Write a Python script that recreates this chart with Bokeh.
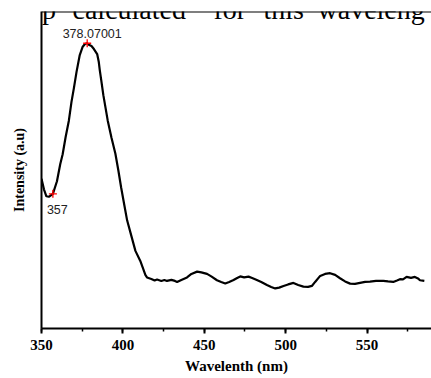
from bokeh.plotting import figure
from bokeh.models import Label, SingleIntervalTicker, Range1d, Span, ColumnDataSource
from bokeh.core.properties import value
from bokeh.embed import file_html
from bokeh.resources import INLINE

# ---- data ----
wavelength = [350.0, 351.5, 353.0, 354.5, 357.0, 359.5, 361.5, 363.0, 364.8, 366.8,
              368.4, 369.9, 371.5, 373.5, 375.2, 376.7, 378.07, 379.4, 380.7, 382.2,
              384.2, 385.2, 385.8, 386.7, 388.0, 390.7, 393.0, 395.4, 397.2, 398.9,
              400.9, 402.6, 405.2, 407.7, 410.7, 412.6, 413.8, 414.8, 417.5, 419.5,
              421.0, 423.6, 425.5, 427.1, 429.8, 432.0, 433.3, 435.9, 439.4, 442.1,
              445.6, 448.2, 451.7, 454.3, 457.8, 460.4, 462.9, 465.3, 468.0, 470.2,
              472.1, 474.5, 477.2, 479.4, 482.3, 485.0, 488.5, 491.1, 493.6, 496.0,
              498.7, 501.5, 504.8, 507.7, 510.9, 513.8, 516.1, 518.1, 521.2, 524.2,
              527.3, 530.4, 533.4, 536.5, 539.6, 542.6, 545.7, 548.8, 551.8, 555.5,
              560.0, 562.9, 566.1, 568.4, 570.2, 572.1, 574.3, 577.0, 579.4, 581.3,
              582.5, 585.2]
intensity = [149.5, 139.0, 132.0, 131.5, 134.5, 147.0, 164.0, 174.0, 191.0, 207.5,
             226.0, 240.0, 256.0, 273.0, 281.0, 284.0, 284.8, 283.0, 282.0, 279.0,
             274.0, 266.0, 258.0, 248.0, 233.0, 207.5, 190.5, 174.5, 158.0, 141.0,
             123.0, 108.0, 92.5, 77.5, 67.5, 59.0, 53.5, 51.0, 49.5, 48.0,
             49.0, 47.5, 48.5, 47.5, 48.5, 47.5, 46.5, 48.5, 51.0, 54.5,
             56.8, 56.0, 54.5, 52.0, 48.2, 46.5, 45.0, 46.5, 48.5, 50.5,
             52.0, 51.0, 51.8, 50.5, 48.5, 46.5, 43.5, 41.5, 40.0, 40.8,
             42.5, 44.0, 45.5, 43.5, 41.8, 41.5, 42.5, 46.5, 52.5, 54.5,
             55.2, 53.5, 50.2, 47.0, 44.8, 44.5, 45.5, 46.5, 46.8, 47.5,
             47.5, 47.0, 46.5, 48.0, 49.2, 49.0, 51.5, 50.5, 51.5, 50.0,
             48.2, 47.5]

marked_wavelengths = [357.0, 378.07]
marked_labels = ["357", "378.07001"]
top_words = ["gap", "calculated", "for", "this", "waveleng"]

# ---- figure ----
SERIF = "Liberation Serif"
SANS = "Liberation Sans"
Y_TOP = 316.5
FRAME_LEFT = 41
FRAME_BOTTOM = 328

p = figure(width=431, height=378, output_backend="svg", toolbar_location=None,
           x_range=Range1d(350, 589.6), y_range=Range1d(0, Y_TOP),
           min_border_left=FRAME_LEFT, min_border_right=0, min_border_top=11,
           min_border_bottom=378 - FRAME_BOTTOM)
p.outline_line_color = None
p.xgrid.visible = False
p.ygrid.visible = False
p.background_fill_color = "white"
p.border_fill_color = None

# curve
p.line(wavelength, intensity, line_color="black", line_width=2.2)

# marked points
mx = [w for w in wavelength if w in marked_wavelengths]
my = [intensity[wavelength.index(w)] for w in mx]
p.scatter(mx, my, marker="cross", size=8, line_color="red", line_width=1.3)

src_peak = ColumnDataSource(dict(x=[mx[1]], y=[my[1]], t=[marked_labels[1]]))
p.text(x="x", y="y", text="t", source=src_peak, text_font=value(SANS),
       text_font_size="12.5px", text_color="#222222", text_align="center",
       text_baseline="alphabetic", x_offset=5, y_offset=-10)
src_val = ColumnDataSource(dict(x=[mx[0]], y=[my[0]], t=[marked_labels[0]]))
p.text(x="x", y="y", text="t", source=src_val, text_font=value(SANS),
       text_font_size="12.5px", text_color="#222222", text_align="left",
       text_baseline="alphabetic", x_offset=-6, y_offset=16)

# top frame line
p.add_layout(Span(location=Y_TOP, dimension="width", line_color="black", line_width=2))

# x axis
xa = p.xaxis[0]
xa.ticker = SingleIntervalTicker(interval=50, num_minor_ticks=2)
xa.axis_label = "Wavelenth (nm)"
xa.axis_label_text_font = SERIF
xa.axis_label_text_font_style = "bold"
xa.axis_label_text_font_size = "15px"
xa.axis_label_text_color = "black"
xa.axis_label_standoff = 5
xa.major_label_text_font = SERIF
xa.major_label_text_font_style = "bold"
xa.major_label_text_font_size = "15px"
xa.major_label_text_color = "black"
xa.major_label_standoff = 6
xa.axis_line_width = 2
xa.major_tick_line_width = 2
xa.minor_tick_line_width = 1.5
xa.major_tick_in = 0
xa.major_tick_out = 5
xa.minor_tick_in = 0
xa.minor_tick_out = 3

# y axis (no ticks or tick labels)
ya = p.yaxis[0]
ya.ticker = []
ya.major_tick_line_color = None
ya.minor_tick_line_color = None
ya.major_tick_out = 0
ya.major_tick_in = 0
ya.minor_tick_out = 0
ya.major_label_standoff = 0
ya.major_label_text_font_size = "0px"
ya.axis_line_width = 2
ya.axis_label = "Intensity (a.u)"
ya.axis_label_text_font = SERIF
ya.axis_label_text_font_style = "bold"
ya.axis_label_text_font_size = "14px"
ya.axis_label_text_color = "black"
ya.axis_label_standoff = 15

# cut-off text above the chart (screen units are relative to the frame's bottom-left)
word_px = [15, 72, 213, 263, 317]
for w, px in zip(top_words, word_px):
    p.add_layout(Label(x=px - FRAME_LEFT, y=FRAME_BOTTOM - 9, x_units="screen",
                       y_units="screen", text=w, text_font=SERIF,
                       text_font_size="28px", level="overlay",
                       text_baseline="alphabetic", text_align="left",
                       text_color="black"))

open("out.html", "w").write(file_html(p, INLINE))
